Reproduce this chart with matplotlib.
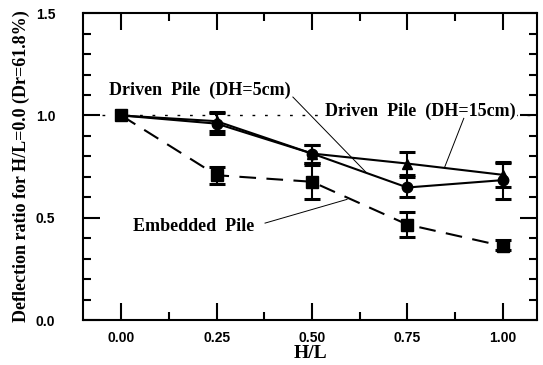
import numpy as np
import matplotlib
matplotlib.use("Agg")
import matplotlib.pyplot as plt
from matplotlib.ticker import MultipleLocator

# data
hl = [0.0, 0.25, 0.50, 0.75, 1.00]

emb = [1.0, 0.708, 0.676, 0.467, 0.362]
emb_lo = [1.0, 0.665, 0.590, 0.407, 0.342]
emb_hi = [1.0, 0.750, 0.757, 0.529, 0.390]

dh5 = [1.0, 0.960, 0.814, 0.648, 0.684]
dh5_lo = [1.0, 0.908, 0.770, 0.602, 0.590]
dh5_hi = [1.0, 1.010, 0.855, 0.700, 0.770]

dh15 = [1.0, 0.972, 0.814, 0.765, 0.710]
dh15_lo = [1.0, 0.925, 0.770, 0.708, 0.650]
dh15_hi = [1.0, 1.015, 0.855, 0.822, 0.773]

serif = 'Liberation Serif'
sans = 'Liberation Sans'

fig = plt.figure(figsize=(5.43, 3.65), dpi=100)
ax = fig.add_axes([0.153, 0.123, 0.836, 0.841])
ax.set_xlim(-0.1, 1.09)
ax.set_ylim(0, 1.5)

# reference line at 1.0
ax.plot([-0.05, 1.09], [1.0, 1.0], color='k', lw=1, ls=(0, (2, 7)), zorder=1)


def series(y, lo, hi, marker, ms, ls):
    x = np.array(hl)
    y = np.array(y)
    ax.plot(x, y, color='k', lw=1.5, ls=ls, marker=marker, ms=ms, zorder=3)
    err = [y[1:] - np.array(lo[1:]), np.array(hi[1:]) - y[1:]]
    ax.errorbar(x[1:], y[1:], yerr=err, fmt='none', ecolor='k',
                elinewidth=1.5, capsize=6, capthick=2.2, zorder=3)


series(emb, emb_lo, emb_hi, 's', 8, (0, (8, 5)))
series(dh5, dh5_lo, dh5_hi, 'o', 7.5, '-')
series(dh15, dh15_lo, dh15_hi, '^', 6.5, '-')

tfont = dict(family=serif, weight='bold', size=13)
ax.text(0.207, 1.124, 'Driven  Pile  (DH=5cm)', ha='center', va='center', **tfont)
ax.text(0.785, 1.022, 'Driven  Pile  (DH=15cm)', ha='center', va='center',
        bbox=dict(facecolor='white', edgecolor='none', pad=1), zorder=2, **tfont)
ax.text(0.19, 0.455, 'Embedded  Pile', ha='center', va='center', **tfont)

# leader lines
ax.plot([0.45, 0.644], [1.09, 0.718], color='k', lw=0.7)
ax.plot([0.898, 0.848], [0.986, 0.748], color='k', lw=0.7)
ax.plot([0.377, 0.592], [0.474, 0.590], color='k', lw=0.7)

ax.xaxis.set_major_locator(MultipleLocator(0.25))
ax.xaxis.set_minor_locator(MultipleLocator(0.125))
ax.yaxis.set_major_locator(MultipleLocator(0.5))
ax.yaxis.set_minor_locator(MultipleLocator(0.1))
ax.tick_params(which='both', direction='in', top=True, right=True, width=1.5)
ax.tick_params(which='major', length=12)
ax.tick_params(which='minor', length=6)
ax.tick_params(axis='y', pad=20)
ax.tick_params(axis='x', pad=8)
ax.set_xticks(hl)
ax.set_xticklabels(['0.00', '0.25', '0.50', '0.75', '1.00'])
ax.set_yticks([0.0, 0.5, 1.0, 1.5])
ax.set_yticklabels(['0.0', '0.5', '1.0', '1.5'])
for lab in ax.get_xticklabels() + ax.get_yticklabels():
    lab.set_fontfamily(sans)
    lab.set_fontweight('bold')
    lab.set_fontsize(10)

for s in ax.spines.values():
    s.set_linewidth(1.5)

ax.set_xlabel('H/L', family=serif, weight='bold', size=14, labelpad=0)
ax.set_ylabel('Deflection ratio for H/L=0.0 (Dr=61.8%)', family=serif,
              weight='bold', size=13, labelpad=4)

fig.savefig('out.png', dpi=100)
